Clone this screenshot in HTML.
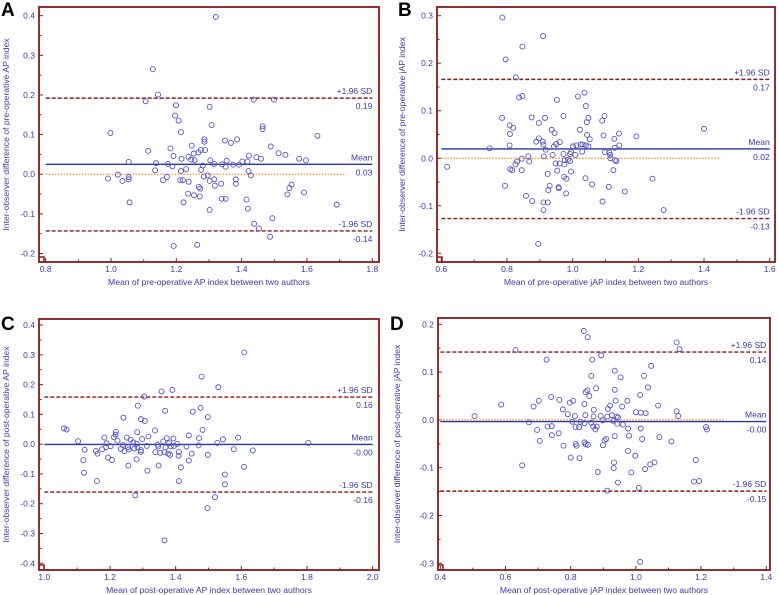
<!DOCTYPE html>
<html><head><meta charset="utf-8"><style>
body{margin:0;background:#fff;}
svg{display:block;font-family:"Liberation Sans",sans-serif;}
</style></head><body>
<svg id="fig" width="778" height="595" viewBox="0 0 778 595" xmlns="http://www.w3.org/2000/svg"></svg>
<script>
// Panel A data
const aX=[1.321,1.128,1.144,1.106,1.199,1.302,1.437,1.499,1.196,1.207,1.308,1.464,1.464,1.214,0.998,1.632,1.349,1.367,1.386,1.286,1.286,1.489,1.182,1.114,1.247,1.275,1.288,1.268,1.513,1.534,1.253,1.191,1.422,1.445,1.459,1.576,1.597,1.216,1.237,1.245,1.256,1.304,1.354,1.402,1.418,1.054,1.138,1.174,1.316,1.340,1.374,1.392,1.351,1.281,1.188,1.230,1.214,1.135,1.276,1.421,1.021,0.991,1.035,1.054,1.054,1.159,1.171,1.212,1.220,1.238,1.284,1.296,1.302,1.316,1.318,1.337,1.382,1.382,1.428,1.269,1.273,1.553,1.546,1.540,1.591,1.236,1.254,1.272,1.339,1.351,1.415,1.057,1.222,1.691,1.419,1.302,1.494,1.438,1.453,1.487,1.192,1.264];
const aY=[0.397,0.265,0.201,0.184,0.174,0.170,0.188,0.188,0.148,0.135,0.124,0.121,0.114,0.106,0.104,0.097,0.085,0.079,0.088,0.088,0.082,0.070,0.065,0.059,0.072,0.061,0.061,0.055,0.053,0.049,0.052,0.046,0.047,0.043,0.039,0.039,0.035,0.039,0.044,0.037,0.035,0.035,0.034,0.032,0.032,0.031,0.028,0.026,0.026,0.025,0.024,0.024,0.019,0.022,0.020,0.013,0.008,0.010,0.011,0.008,-0.001,-0.011,-0.017,-0.007,-0.013,-0.015,-0.007,-0.015,-0.015,-0.019,-0.006,-0.003,-0.017,-0.013,-0.029,-0.024,-0.013,-0.024,-0.003,-0.032,-0.036,-0.026,-0.035,-0.051,-0.046,-0.049,-0.053,-0.056,-0.062,-0.062,-0.064,-0.071,-0.071,-0.077,-0.087,-0.090,-0.111,-0.125,-0.137,-0.158,-0.181,-0.178];
const aStats=[0.025,0.192,-0.143];
const aStatLabels=["0.03","0.19","-0.14"];
const aXTicks=[0.8,1.0,1.2,1.4,1.6,1.8];
const aXTickLabels=["0.8","1.0","1.2","1.4","1.6","1.8"];
const aYTicks=[-0.2,-0.1,0,0.1,0.2,0.3,0.4];
const aYTickLabels=["-0.2","-0.1","0.0","0.1","0.2","0.3","0.4"];
// Panel B data
const bX=[0.786,0.910,0.847,0.796,0.827,0.837,0.847,0.952,1.016,1.036,1.040,0.785,0.875,0.972,1.097,0.916,1.048,1.043,1.090,0.897,0.808,0.819,0.936,0.945,0.809,1.022,1.044,1.052,1.094,1.141,1.127,1.194,1.400,0.897,0.889,0.909,0.950,0.961,0.911,0.808,0.747,0.918,0.943,1.001,1.011,1.024,1.030,1.040,1.048,1.128,1.142,1.029,1.008,0.972,0.992,0.995,0.912,0.939,0.865,1.098,1.114,1.115,1.129,1.133,1.112,0.845,0.831,0.868,0.826,0.948,0.960,0.975,0.976,0.986,0.992,0.618,0.810,0.816,0.845,0.924,0.953,0.974,0.981,0.995,1.039,1.059,1.124,1.243,0.794,0.930,0.926,0.957,0.958,0.980,0.858,0.877,0.911,0.924,1.091,1.110,1.159,0.911,1.277,0.895];
const bY=[0.296,0.257,0.235,0.208,0.170,0.128,0.131,0.123,0.130,0.138,0.110,0.085,0.086,0.089,0.089,0.085,0.085,0.076,0.079,0.074,0.069,0.064,0.060,0.053,0.051,0.060,0.049,0.040,0.048,0.052,0.041,0.046,0.062,0.042,0.035,0.035,0.030,0.034,0.029,0.027,0.021,0.018,0.025,0.025,0.027,0.029,0.029,0.027,0.025,0.022,0.027,0.014,0.007,0.009,0.009,0.013,0.004,0.007,0.004,0.013,0.007,0.000,-0.004,-0.006,0.012,-0.001,-0.007,-0.007,-0.013,-0.011,-0.011,-0.013,-0.004,-0.003,-0.006,-0.018,-0.023,-0.025,-0.025,-0.033,-0.026,-0.039,-0.043,-0.028,-0.042,-0.055,-0.025,-0.043,-0.058,-0.058,-0.067,-0.061,-0.063,-0.074,-0.079,-0.090,-0.093,-0.093,-0.091,-0.060,-0.070,-0.109,-0.109,-0.180];
const bStats=[0.0196,0.166,-0.127];
const bStatLabels=["0.02","0.17","-0.13"];
const bXTicks=[0.6,0.8,1.0,1.2,1.4,1.6];
const bXTickLabels=["0.6","0.8","1.0","1.2","1.4","1.6"];
const bYTicks=[-0.2,-0.1,0,0.1,0.2,0.3];
const bYTickLabels=["-0.2","-0.1","0.0","0.1","0.2","0.3"];
// Panel C data
const cX=[1.609,1.479,1.530,1.390,1.357,1.304,1.285,1.476,1.368,1.452,1.498,1.241,1.294,1.306,1.482,1.337,1.060,1.068,1.283,1.218,1.217,1.440,1.317,1.212,1.183,1.251,1.471,1.373,1.393,1.590,1.544,1.263,1.298,1.223,1.103,1.804,1.527,1.271,1.362,1.190,1.380,1.405,1.281,1.345,1.395,1.433,1.470,1.239,1.312,1.202,1.255,1.284,1.188,1.347,1.369,1.385,1.233,1.274,1.294,1.176,1.123,1.257,1.244,1.157,1.294,1.410,1.577,1.635,1.338,1.353,1.366,1.377,1.383,1.449,1.162,1.409,1.498,1.194,1.206,1.119,1.281,1.440,1.256,1.348,1.416,1.314,1.608,1.550,1.121,1.160,1.410,1.550,1.277,1.520,1.497,1.366];
const cY=[0.308,0.227,0.191,0.182,0.177,0.160,0.129,0.122,0.112,0.109,0.091,0.089,0.084,0.078,0.048,0.046,0.053,0.049,0.040,0.041,0.032,0.029,0.026,0.023,0.022,0.022,0.020,0.020,0.019,0.022,0.016,0.015,0.017,0.012,0.010,0.004,0.004,0.006,0.009,0.003,0.003,0.001,0.001,-0.002,-0.006,-0.008,-0.004,-0.003,-0.006,-0.007,-0.010,-0.011,-0.010,-0.008,-0.011,-0.007,-0.016,-0.015,-0.020,-0.017,-0.019,-0.018,-0.023,-0.023,-0.026,-0.026,-0.017,-0.021,-0.027,-0.029,-0.027,-0.032,-0.036,-0.032,-0.032,-0.039,-0.036,-0.045,-0.053,-0.054,-0.051,-0.055,-0.072,-0.072,-0.078,-0.089,-0.076,-0.102,-0.096,-0.124,-0.124,-0.135,-0.172,-0.178,-0.215,-0.323];
const cStats=[-0.001,0.158,-0.161];
const cStatLabels=["-0.00","0.16","-0.16"];
const cXTicks=[1.0,1.2,1.4,1.6,1.8,2.0];
const cXTickLabels=["1.0","1.2","1.4","1.6","1.8","2.0"];
const cYTicks=[-0.4,-0.3,-0.2,-0.1,0,0.1,0.2,0.3,0.4];
const cYTickLabels=["-0.4","-0.3","-0.2","-0.1","0.0","0.1","0.2","0.3","0.4"];
// Panel D data
const dX=[0.840,0.852,1.125,0.631,1.134,0.726,0.866,0.894,1.047,0.935,1.025,0.863,0.953,1.037,0.878,0.851,0.846,0.935,0.857,1.013,0.740,0.938,0.765,0.702,0.974,0.808,0.797,0.842,0.587,1.068,0.921,0.958,0.686,0.914,0.776,0.871,1.125,1.000,1.015,1.030,0.791,0.845,0.892,0.813,0.926,1.130,0.505,0.941,0.912,0.870,0.945,0.898,0.931,0.830,0.805,0.863,0.842,0.672,0.943,0.960,0.869,0.880,0.815,0.826,0.729,0.742,0.976,1.015,1.215,1.218,0.876,0.697,0.763,0.742,0.979,0.935,1.072,1.019,0.909,0.904,1.109,0.705,0.842,0.815,0.846,0.853,0.818,0.778,0.899,0.976,0.998,0.800,0.827,1.184,0.933,1.057,1.044,0.651,0.932,1.028,0.883,0.986,1.178,1.194,0.945,0.912,1.009,1.013];
const dY=[0.186,0.173,0.162,0.146,0.148,0.126,0.126,0.135,0.113,0.103,0.092,0.092,0.089,0.068,0.066,0.062,0.058,0.063,0.050,0.052,0.048,0.040,0.042,0.040,0.040,0.040,0.036,0.033,0.032,0.030,0.030,0.028,0.028,0.023,0.022,0.021,0.018,0.016,0.015,0.014,0.012,0.010,0.008,0.008,0.010,0.008,0.008,0.007,0.007,0.007,0.005,-0.001,-0.002,-0.004,-0.004,-0.006,-0.007,-0.005,-0.008,-0.010,-0.014,-0.014,-0.015,-0.015,-0.014,-0.013,-0.018,-0.018,-0.015,-0.020,-0.020,-0.021,-0.028,-0.032,-0.033,-0.034,-0.036,-0.040,-0.040,-0.043,-0.045,-0.044,-0.047,-0.050,-0.051,-0.052,-0.054,-0.054,-0.053,-0.065,-0.075,-0.079,-0.080,-0.084,-0.089,-0.089,-0.093,-0.095,-0.101,-0.103,-0.109,-0.110,-0.129,-0.128,-0.131,-0.148,-0.142,-0.297];
const dStats=[-0.0035,0.142,-0.149];
const dStatLabels=["-0.00","0.14","-0.15"];
const dXTicks=[0.4,0.6,0.8,1.0,1.2,1.4];
const dXTickLabels=["0.4","0.6","0.8","1.0","1.2","1.4"];
const dYTicks=[-0.3,-0.2,-0.1,0,0.1,0.2];
const dYTickLabels=["-0.3","-0.2","-0.1","0.0","0.1","0.2"];

const NS="http://www.w3.org/2000/svg";
const svg=document.getElementById('fig');
function mk(tag,attrs,parent,text){const e=document.createElementNS(NS,tag);for(const k in attrs)e.setAttribute(k,attrs[k]);if(text!==undefined)e.textContent=text;(parent||svg).appendChild(e);return e;}
const BLUE="#3a3aa6", RED="#8b1a1a";

function panel(p){
  const g=mk('g',{});
  
  
  const xs=v=>p.px0+(v-p.x0)*(p.px1-p.px0)/(p.x1-p.x0);
  const ys=v=>p.py0+(p.y0-v)*(p.py1-p.py0)/(p.y0-p.y1);
  // frame
  const fr=mk('rect',{x:p.L,y:p.T,width:p.R-p.L,height:p.B-p.T,fill:'none',stroke:RED,'stroke-width':1.8},g);
  
  
  mk('path',{d:`M${p.L} ${p.B-5}H${p.L+5}V${p.B}`,fill:'none',stroke:RED,'stroke-width':1.5},g);
  // letter
  const lt=mk('text',{x:p.lx,y:p.ly,'font-size':19,'font-weight':'bold',fill:'#000'},g,p.id);
  
  
  // y ticks
  const yt=p.yTicks;
  for(let i=0;i<yt.length;i++){
    const y=ys(yt[i]);
    mk('line',{x1:p.L,x2:p.L+4,y1:y,y2:y,stroke:RED,'stroke-width':1},g);
    if(i<yt.length-1){const ym=ys((yt[i]+yt[i+1])/2);mk('line',{x1:p.L,x2:p.L+2.5,y1:ym,y2:ym,stroke:RED,'stroke-width':1},g);}
    const t=mk('text',{x:p.L-4,y:y+3,'font-size':8.5,'text-anchor':'end',fill:BLUE},g,p.yTickLabels[i]);
    
    
  }
  const xt=p.xTicks;
  for(let i=0;i<xt.length;i++){
    const x=xs(xt[i]);
    mk('line',{x1:x,x2:x,y1:p.B,y2:p.B-4,stroke:RED,'stroke-width':1},g);
    if(i<xt.length-1){const xm=xs((xt[i]+xt[i+1])/2);mk('line',{x1:xm,x2:xm,y1:p.B,y2:p.B-2.5,stroke:RED,'stroke-width':1},g);}
    const t=mk('text',{x:x,y:p.B+10,'font-size':8.5,'text-anchor':'middle',fill:BLUE},g,p.xTickLabels[i]);
    
    
  }
  const xtl=mk('text',{x:(p.L+p.R)/2,y:p.B+23,'font-size':8.6,'text-anchor':'middle',fill:BLUE},g,p.xTitle);
  
  
  const cy=(p.T+p.B)/2;
  const ytl=mk('text',{x:p.ytx,y:cy,'font-size':8.6,'text-anchor':'middle',fill:BLUE,transform:`rotate(-90 ${p.ytx} ${cy})`},g,p.yTitle);
  
  
  const xa=xs(p.x0), xb=xs(p.x1);
  // zero line
  if(p.zeroEnd){
    const z=mk('line',{x1:xa,x2:xs(p.zeroEnd),y1:ys(0),y2:ys(0),stroke:'#ff8c1a','stroke-width':1.3,'stroke-dasharray':'1.5,1.5'},g);
    
    
  }
  // mean
  const m=mk('line',{x1:xa,x2:xb,y1:ys(p.stats[0]),y2:ys(p.stats[0]),stroke:'#2a35a8','stroke-width':1.4},g);
  
  
  const names=['Mean','+1.96 SD','-1.96 SD'];
  for(let i=1;i<3;i++){
    const l=mk('line',{x1:xa,x2:xb,y1:ys(p.stats[i]),y2:ys(p.stats[i]),stroke:RED,'stroke-width':1.4,'stroke-dasharray':'4,2'},g);
    
    
  }
  for(let i=0;i<3;i++){
    const y=ys(p.stats[i]);
    const a=mk('text',{x:xb,y:y-4,'font-size':8.5,'text-anchor':'end',fill:BLUE},g,names[i]);
    
    
    const b=mk('text',{x:xb,y:y+11,'font-size':8.5,'text-anchor':'end',fill:BLUE},g,p.statLabels[i]);
    
    
  }
  for(let i=0;i<p.xv.length;i++){
    const c=mk('circle',{cx:xs(p.xv[i]),cy:ys(p.yv[i]),r:2.5,fill:'none',stroke:'#5353c4','stroke-width':0.9},g);
    
    
  }
}
panel({id:'A',L:39,R:379,T:7,B:262,px0:45.7,px1:372.3,x0:0.8,x1:1.8,py0:15.7,py1:253.5,y0:0.4,y1:-0.2,
  xTicks:aXTicks,xTickLabels:aXTickLabels,yTicks:aYTicks,yTickLabels:aYTickLabels,stats:aStats,statLabels:aStatLabels,
  xv:aX,yv:aY,zeroEnd:1.72,lx:1,ly:16,ytx:9,xTitle:'Mean of pre-operative AP index between two authors',yTitle:'Inter-observer difference of pre-operative AP index'});
panel({id:'B',L:437,R:775,T:7,B:262,px0:441.3,px1:769.7,x0:0.6,x1:1.6,py0:15.7,py1:253.3,y0:0.3,y1:-0.2,
  xTicks:bXTicks,xTickLabels:bXTickLabels,yTicks:bYTicks,yTickLabels:bYTickLabels,stats:bStats,statLabels:bStatLabels,
  xv:bX,yv:bY,zeroEnd:1.45,lx:398,ly:16,ytx:405,xTitle:'Mean of pre-operative jAP index between two authors',yTitle:'Inter-observer difference of pre-operative jAP index'});
panel({id:'C',L:39,R:379,T:319,B:570,px0:44.3,px1:372.7,x0:1.0,x1:2.0,py0:325,py1:563.3,y0:0.4,y1:-0.4,
  xTicks:cXTicks,xTickLabels:cXTickLabels,yTicks:cYTicks,yTickLabels:cYTickLabels,stats:cStats,statLabels:cStatLabels,
  xv:cX,yv:cY,zeroEnd:null,lx:1,ly:330,ytx:9,xTitle:'Mean of post-operative AP index between two authors',yTitle:'Inter-observer difference of post-operative AP index'});
panel({id:'D',L:438,R:770,T:318,B:570,px0:440.3,px1:766.3,x0:0.4,x1:1.4,py0:324.3,py1:563.3,y0:0.2,y1:-0.3,
  xTicks:dXTicks,xTickLabels:dXTickLabels,yTicks:dYTicks,yTickLabels:dYTickLabels,stats:dStats,statLabels:dStatLabels,
  xv:dX,yv:dY,zeroEnd:1.27,lx:390,ly:330,ytx:400,xTitle:'Mean of post-operative jAP index between two authors',yTitle:'Inter-observer difference of post-operative jAP index'});
</script>
</body></html>
